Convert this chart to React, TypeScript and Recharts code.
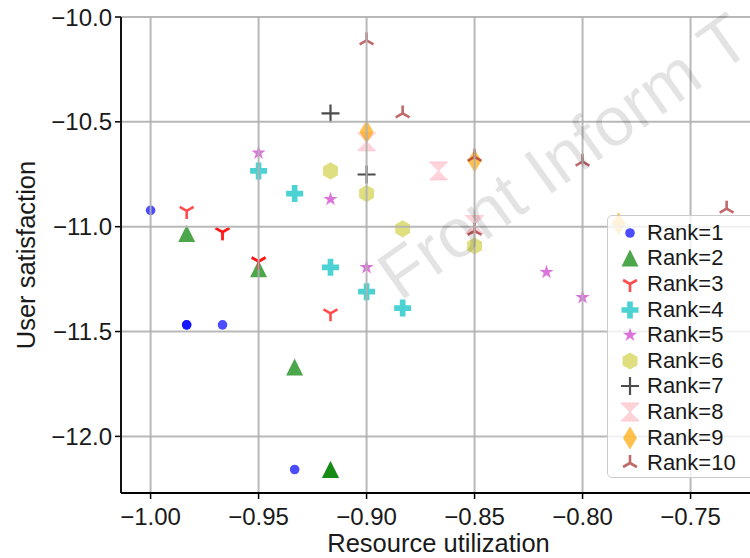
import React from 'react';
import { ScatterChart, Scatter, XAxis, YAxis, CartesianGrid, Legend } from 'recharts';

// ---- data ----
const rankNames = ['Rank=1', 'Rank=2', 'Rank=3', 'Rank=4', 'Rank=5', 'Rank=6', 'Rank=7', 'Rank=8', 'Rank=9', 'Rank=10'];

const rank1X = [-1.0, -0.9833, -0.9833, -0.9667, -0.9333];
const rank1Y = [-10.922, -11.468, -11.468, -11.468, -12.158];
const rank2X = [-0.9833, -0.95, -0.9333, -0.9167, -0.9167];
const rank2Y = [-11.033, -11.2, -11.669, -12.158, -12.158];
const rank3X = [-0.9833, -0.9667, -0.9667, -0.95, -0.95, -0.9167];
const rank3Y = [-10.925, -11.026, -11.026, -11.166, -11.166, -11.413];
const rank4X = [-0.95, -0.9333, -0.9167, -0.9, -0.8833];
const rank4Y = [-10.734, -10.842, -11.194, -11.31, -11.388];
const rank5X = [-0.95, -0.9167, -0.9, -0.8167, -0.8];
const rank5Y = [-10.648, -10.869, -11.194, -11.217, -11.337];
const rank6X = [-0.9167, -0.9, -0.8833, -0.85];
const rank6Y = [-10.734, -10.842, -11.01, -11.092];
const rank7X = [-0.9167, -0.9];
const rank7Y = [-10.46, -10.751];
const rank8X = [-0.9, -0.8667, -0.85];
const rank8Y = [-10.595, -10.734, -10.99];
const rank9X = [-0.9, -0.85, -0.7833];
const rank9Y = [-10.547, -10.685, -10.986];
const rank10X = [-0.9, -0.8833, -0.85, -0.85, -0.8, -0.7333];
const rank10Y = [-10.112, -10.46, -10.667, -11.02, -10.69, -10.914];

const xTicks = [-1.0, -0.95, -0.9, -0.85, -0.8, -0.75];
const yTicks = [-12.0, -11.5, -11.0, -10.5, -10.0];
const xDomain: [number, number] = [-1.0137, -0.7197];
const yDomain: [number, number] = [-12.27, -10.0];

const allX = [rank1X, rank2X, rank3X, rank4X, rank5X, rank6X, rank7X, rank8X, rank9X, rank10X];
const allY = [rank1Y, rank2Y, rank3Y, rank4Y, rank5Y, rank6Y, rank7Y, rank8Y, rank9Y, rank10Y];

// ---- marker drawing ----
const A = 0.7;
type MF = (cx: number, cy: number) => React.ReactElement;

const circleM: MF = (cx, cy) => <circle cx={cx} cy={cy} r={4.8} fill="#0000ff" fillOpacity={A} />;
const triUpFilled: MF = (cx, cy) => {
  const s = 8.5;
  return <path d={`M${cx},${cy - s}L${cx - s},${cy + s}L${cx + s},${cy + s}Z`} fill="#008000" fillOpacity={A} />;
};
const triDownLines: MF = (cx, cy) => {
  const r = 8;
  return (
    <path
      d={`M${cx},${cy}L${cx},${cy + r}M${cx},${cy}L${cx - 0.866 * r},${cy - 0.5 * r}M${cx},${cy}L${cx + 0.866 * r},${cy - 0.5 * r}`}
      stroke="#ff0000" strokeOpacity={A} strokeWidth={2.6} fill="none"
    />
  );
};
const plusFilled: MF = (cx, cy) => {
  const a = 8.5, b = a / 3;
  const pts = [[-b, -a], [b, -a], [b, -b], [a, -b], [a, b], [b, b], [b, a], [-b, a], [-b, b], [-a, b], [-a, -b], [-b, -b]];
  return <polygon points={pts.map(([x, y]) => `${cx + x},${cy + y}`).join(' ')} fill="#00bfbf" fillOpacity={A} />;
};
const starM: MF = (cx, cy) => {
  const R = 7.5, r = R * 0.382;
  const pts: string[] = [];
  for (let i = 0; i < 10; i++) {
    const ang = -Math.PI / 2 + (i * Math.PI) / 5;
    const rr = i % 2 === 0 ? R : r;
    pts.push(`${cx + rr * Math.cos(ang)},${cy + rr * Math.sin(ang)}`);
  }
  return <polygon points={pts.join(' ')} fill="#bf00bf" fillOpacity={0.55} />;
};
const hexM: MF = (cx, cy) => {
  const R = 8.6;
  const pts: string[] = [];
  for (let i = 0; i < 6; i++) {
    const ang = -Math.PI / 2 + (i * Math.PI) / 3;
    pts.push(`${cx + R * Math.cos(ang)},${cy + R * Math.sin(ang)}`);
  }
  return <polygon points={pts.join(' ')} fill="#bfbf00" fillOpacity={0.5} />;
};
const plusLines: MF = (cx, cy) => {
  const h = 9;
  return <path d={`M${cx - h},${cy}L${cx + h},${cy}M${cx},${cy - h}L${cx},${cy + h}`} stroke="#000000" strokeOpacity={A} strokeWidth={2.2} fill="none" />;
};
const hourglass: MF = (cx, cy) => {
  const h = 9;
  return (
    <path
      d={`M${cx - h},${cy - h}L${cx + h},${cy - h}L${cx},${cy}ZM${cx},${cy}L${cx + h},${cy + h}L${cx - h},${cy + h}Z`}
      fill="#ffc0cb" fillOpacity={A} stroke="#ffc0cb" strokeOpacity={A} strokeWidth={1}
    />
  );
};
const thinDiamond: MF = (cx, cy) => (
  <path d={`M${cx},${cy - 11.5}L${cx + 7},${cy}L${cx},${cy + 11.5}L${cx - 7},${cy}Z`} fill="#ffa500" fillOpacity={A} />
);
const triUpLines: MF = (cx, cy) => {
  const r = 8;
  return (
    <path
      d={`M${cx},${cy}L${cx},${cy - r}M${cx},${cy}L${cx - 0.866 * r},${cy + 0.5 * r}M${cx},${cy}L${cx + 0.866 * r},${cy + 0.5 * r}`}
      stroke="#a52a2a" strokeOpacity={A} strokeWidth={2.6} fill="none"
    />
  );
};

const markerFns: MF[] = [circleM, triUpFilled, triDownLines, plusFilled, starM, hexM, plusLines, hourglass, thinDiamond, triUpLines];

const seriesData = rankNames.map((name, i) => ({
  name,
  data: allX[i].map((x, j) => ({ x, y: allY[i][j] })),
}));

const fmt = (digits: number) => (v: number) => {
  const s = Math.abs(v).toFixed(digits);
  return v < 0 ? `\u2212${s}` : s;
};

const FONT = '"Liberation Sans", Arial, sans-serif';
const W = 766;
const H = 558;
const MARGIN = { top: 17, right: 10, bottom: 0, left: 21 };

const LegendBox = () => (
  <div
    style={{
      width: 170,
      height: 263,
      boxSizing: 'border-box',
      background: 'rgba(255,255,255,0.8)',
      border: '1.5px solid #cccccc',
      borderRadius: 5,
      position: 'relative',
      fontFamily: FONT,
    }}
  >
    {rankNames.map((name, i) => (
      <div key={name} style={{ position: 'absolute', left: 0, top: 4.7 + i * 25.6, height: 24, width: 170 }}>
        <svg width={30} height={24} style={{ position: 'absolute', left: 7, top: 0, overflow: 'visible' }}>
          {markerFns[i](15, 12)}
        </svg>
        <span style={{ position: 'absolute', left: 39, top: -1, fontSize: 22, lineHeight: '26px', color: '#1a1a1a', whiteSpace: 'nowrap' }}>
          {name}
        </span>
      </div>
    ))}
  </div>
);

const emptyShape = () => <g />;
const emptyTick = () => <g />;

export default function App() {
  return (
    <div style={{ position: 'absolute', left: 0, top: 0, width: 750, height: 558, overflow: 'hidden', background: '#fff' }}>
      {/* layer 1: axes and markers */}
      <div style={{ position: 'absolute', left: 0, top: 0 }}>
        <ScatterChart width={W} height={H} margin={MARGIN} style={{ fontFamily: FONT }}>
          <XAxis
            type="number"
            dataKey="x"
            domain={xDomain}
            ticks={xTicks}
            tickFormatter={fmt(2)}
            height={65}
            allowDataOverflow
            interval={0}
            tickSize={6}
            tickMargin={9}
            tick={{ fontSize: 24, fill: '#1a1a1a' }}
            tickLine={{ stroke: '#000', strokeWidth: 1.5 }}
            axisLine={false}
            label={{ value: 'Resource utilization', position: 'insideBottom', offset: 6, fontSize: 25.5, fill: '#1a1a1a' }}
          />
          <YAxis
            type="number"
            dataKey="y"
            domain={yDomain}
            ticks={yTicks}
            tickFormatter={fmt(1)}
            width={100}
            allowDataOverflow
            interval={0}
            tickSize={6}
            tickMargin={3}
            tick={{ fontSize: 24, fill: '#1a1a1a' }}
            tickLine={{ stroke: '#000', strokeWidth: 1.5 }}
            axisLine={false}
            label={{ value: 'User satisfaction', angle: -90, position: 'insideLeft', offset: 5, fontSize: 25.5, fill: '#1a1a1a', style: { textAnchor: 'middle' } }}
          />
          {seriesData.map((s, i) => (
            <Scatter
              key={s.name}
              name={s.name}
              data={s.data}
              isAnimationActive={false}
              shape={(p: any) => markerFns[i](p.cx, p.cy)}
            />
          ))}
        </ScatterChart>
      </div>
      {/* layer 2: grid lines drawn above the markers (as matplotlib does), spines and legend */}
      <div style={{ position: 'absolute', left: 0, top: 0 }}>
        <ScatterChart width={W} height={H} margin={MARGIN} style={{ fontFamily: FONT }}>
          <XAxis
            type="number"
            dataKey="x"
            domain={xDomain}
            ticks={xTicks}
            height={65}
            allowDataOverflow
            interval={0}
            tick={emptyTick}
            tickLine={false}
            axisLine={{ stroke: '#000', strokeWidth: 1.8 }}
          />
          <XAxis
            xAxisId="top"
            orientation="top"
            type="number"
            dataKey="x"
            domain={xDomain}
            ticks={xTicks}
            height={0}
            interval={0}
            tick={emptyTick}
            tickLine={false}
            axisLine={{ stroke: '#000', strokeWidth: 1.8 }}
            allowDataOverflow
          />
          <YAxis
            type="number"
            dataKey="y"
            domain={yDomain}
            ticks={yTicks}
            width={100}
            allowDataOverflow
            interval={0}
            tick={emptyTick}
            tickLine={false}
            axisLine={{ stroke: '#000', strokeWidth: 1.8 }}
          />
          <Scatter
            name="grid-anchor"
            data={seriesData[0].data}
            isAnimationActive={false}
            shape={emptyShape}
            legendType="none"
          />
          <CartesianGrid stroke="#b0b0b0" strokeWidth={2} strokeOpacity={0.9} />
          <Legend
            layout="vertical"
            align="center"
            verticalAlign="middle"
            wrapperStyle={{ left: 607, top: 215, width: 170, height: 263 }}
            content={() => <LegendBox />}
          />
        </ScatterChart>
      </div>
      <svg width={750} height={558} style={{ position: 'absolute', left: 0, top: 0, pointerEvents: 'none' }}>
        <text
          x={400}
          y={302}
          transform="rotate(-35.5 400 302)"
          fontSize={69}
          fontFamily={FONT}
          fill="#000"
          fillOpacity={0.11}
        >
          Front Inform T
        </text>
      </svg>
    </div>
  );
}
